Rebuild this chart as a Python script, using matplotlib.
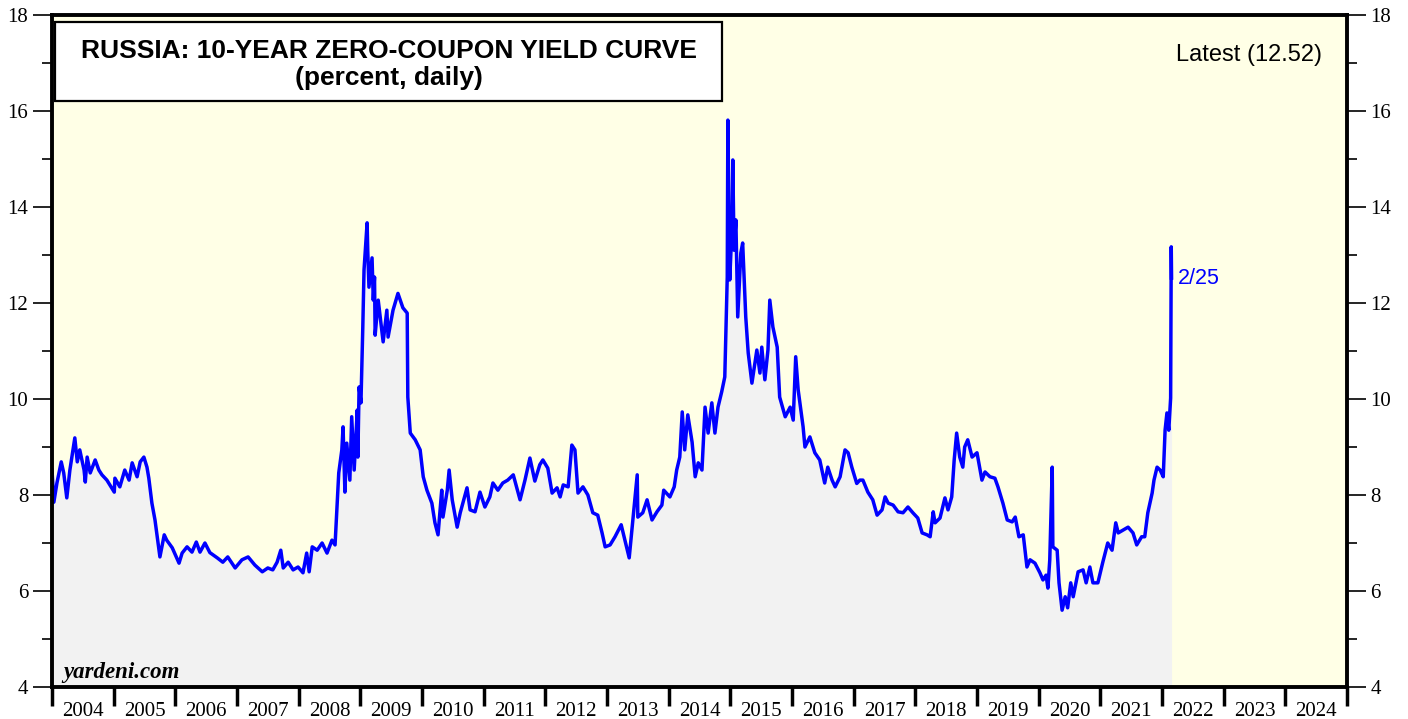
#!/usr/bin/env python3
"""Russia 10-year zero-coupon yield curve, daily, redrawn from a Yardeni chart."""

import matplotlib
matplotlib.use("Agg")
import matplotlib.pyplot as plt
from matplotlib.patches import Rectangle
from matplotlib.ticker import FixedLocator, MultipleLocator, NullFormatter

# decimal year and yield (percent)
years = [
    2004.00, 2004.03, 2004.08, 2004.15, 2004.19, 2004.24, 2004.29, 2004.37, 2004.41, 2004.45,
    2004.52, 2004.54, 2004.57, 2004.62, 2004.70, 2004.76, 2004.81, 2004.89, 2005.01, 2005.02,
    2005.10, 2005.18, 2005.25, 2005.30, 2005.38, 2005.43, 2005.49, 2005.54, 2005.57, 2005.62,
    2005.67, 2005.72, 2005.75, 2005.82, 2005.86, 2005.95, 2006.06, 2006.11, 2006.19, 2006.27,
    2006.34, 2006.40, 2006.48, 2006.56, 2006.68, 2006.77, 2006.85, 2006.97, 2007.08, 2007.18,
    2007.29, 2007.41, 2007.50, 2007.58, 2007.65, 2007.71, 2007.75, 2007.83, 2007.91, 2007.99,
    2008.07, 2008.13, 2008.17, 2008.22, 2008.30, 2008.38, 2008.46, 2008.54, 2008.59, 2008.62,
    2008.65, 2008.70, 2008.72, 2008.75, 2008.78, 2008.83, 2008.86, 2008.90, 2008.95, 2008.96,
    2008.98, 2009.01, 2009.04, 2009.06, 2009.11, 2009.12, 2009.14, 2009.19, 2009.21, 2009.23,
    2009.24, 2009.29, 2009.37, 2009.43, 2009.45, 2009.53, 2009.61, 2009.69, 2009.76, 2009.77,
    2009.81, 2009.89, 2009.97, 2010.02, 2010.08, 2010.16, 2010.21, 2010.26, 2010.32, 2010.34,
    2010.41, 2010.44, 2010.49, 2010.57, 2010.62, 2010.73, 2010.78, 2010.86, 2010.94, 2011.02,
    2011.10, 2011.15, 2011.23, 2011.31, 2011.39, 2011.48, 2011.59, 2011.67, 2011.75, 2011.83,
    2011.91, 2011.96, 2012.04, 2012.11, 2012.19, 2012.24, 2012.29, 2012.37, 2012.43, 2012.48,
    2012.53, 2012.61, 2012.69, 2012.77, 2012.85, 2012.92, 2012.97, 2013.05, 2013.13, 2013.23,
    2013.29, 2013.36, 2013.42, 2013.49, 2013.50, 2013.58, 2013.65, 2013.73, 2013.81, 2013.89,
    2013.92, 2014.02, 2014.09, 2014.13, 2014.18, 2014.22, 2014.26, 2014.31, 2014.38, 2014.43,
    2014.48, 2014.54, 2014.59, 2014.64, 2014.70, 2014.75, 2014.80, 2014.86, 2014.91, 2014.95,
    2014.96, 2014.99, 2015.03, 2015.04, 2015.06, 2015.09, 2015.12, 2015.17, 2015.20, 2015.25,
    2015.29, 2015.35, 2015.43, 2015.48, 2015.51, 2015.56, 2015.61, 2015.64, 2015.69, 2015.76,
    2015.80, 2015.89, 2015.97, 2016.02, 2016.06, 2016.10, 2016.18, 2016.21, 2016.29, 2016.37,
    2016.45, 2016.53, 2016.58, 2016.65, 2016.70, 2016.78, 2016.86, 2016.91, 2016.97, 2017.05,
    2017.10, 2017.15, 2017.23, 2017.31, 2017.38, 2017.46, 2017.51, 2017.56, 2017.64, 2017.72,
    2017.80, 2017.88, 2017.96, 2018.04, 2018.11, 2018.19, 2018.24, 2018.29, 2018.32, 2018.40,
    2018.48, 2018.53, 2018.59, 2018.63, 2018.67, 2018.72, 2018.77, 2018.80, 2018.85, 2018.92,
    2019.00, 2019.08, 2019.13, 2019.21, 2019.29, 2019.34, 2019.42, 2019.49, 2019.57, 2019.62,
    2019.68, 2019.75, 2019.81, 2019.86, 2019.94, 2020.02, 2020.07, 2020.12, 2020.15, 2020.18,
    2020.22, 2020.23, 2020.30, 2020.33, 2020.38, 2020.43, 2020.47, 2020.52, 2020.56, 2020.64,
    2020.72, 2020.77, 2020.83, 2020.88, 2020.96, 2021.04, 2021.12, 2021.19, 2021.25, 2021.29,
    2021.37, 2021.45, 2021.53, 2021.59, 2021.67, 2021.72, 2021.77, 2021.84, 2021.87, 2021.92,
    2021.97, 2022.02, 2022.05, 2022.08, 2022.11, 2022.14, 2022.150, 2022.155,
]
yields = [
    8.52, 7.85, 8.25, 8.69, 8.46, 7.94, 8.52, 9.19, 8.69, 8.94,
    8.52, 8.27, 8.79, 8.46, 8.73, 8.52, 8.42, 8.31, 8.06, 8.35,
    8.17, 8.52, 8.31, 8.67, 8.38, 8.69, 8.79, 8.58, 8.35, 7.83,
    7.48, 7.00, 6.71, 7.17, 7.06, 6.90, 6.58, 6.79, 6.92, 6.81,
    7.02, 6.81, 7.00, 6.80, 6.69, 6.60, 6.71, 6.48, 6.65, 6.71,
    6.54, 6.40, 6.48, 6.44, 6.60, 6.85, 6.48, 6.60, 6.44, 6.50,
    6.38, 6.79, 6.40, 6.92, 6.85, 7.00, 6.79, 7.06, 6.96, 7.69,
    8.46, 8.94, 9.42, 8.06, 9.08, 8.31, 9.63, 8.52, 9.77, 8.79,
    10.25, 9.92, 11.50, 12.69, 13.67, 13.10, 12.33, 12.94, 12.06, 12.54,
    11.33, 12.06, 11.19, 11.85, 11.29, 11.85, 12.20, 11.90, 11.79, 10.04,
    9.29, 9.15, 8.94, 8.38, 8.10, 7.83, 7.42, 7.17, 8.10, 7.54,
    8.10, 8.52, 7.90, 7.33, 7.63, 8.15, 7.69, 7.65, 8.06, 7.75,
    7.96, 8.25, 8.10, 8.25, 8.31, 8.42, 7.90, 8.31, 8.77, 8.29,
    8.63, 8.73, 8.56, 8.04, 8.15, 7.96, 8.21, 8.17, 9.04, 8.94,
    8.04, 8.17, 8.00, 7.63, 7.58, 7.21, 6.92, 6.96, 7.13, 7.38,
    7.06, 6.69, 7.48, 8.42, 7.54, 7.63, 7.90, 7.48, 7.65, 7.79,
    8.10, 7.96, 8.17, 8.52, 8.79, 9.73, 8.94, 9.67, 9.10, 8.38,
    8.67, 8.52, 9.83, 9.29, 9.92, 9.29, 9.83, 10.15, 10.46, 12.54,
    15.81, 12.48, 13.67, 14.98, 13.10, 13.73, 11.71, 13.04, 13.25, 11.71,
    10.96, 10.33, 11.02, 10.54, 11.08, 10.40, 11.02, 12.06, 11.50, 11.08,
    10.04, 9.63, 9.83, 9.56, 10.88, 10.19, 9.42, 9.00, 9.21, 8.88,
    8.73, 8.25, 8.58, 8.31, 8.17, 8.38, 8.94, 8.88, 8.58, 8.24,
    8.31, 8.31, 8.06, 7.90, 7.58, 7.69, 7.96, 7.83, 7.79, 7.65,
    7.63, 7.75, 7.63, 7.52, 7.21, 7.17, 7.13, 7.65, 7.42, 7.52,
    7.94, 7.69, 7.96, 8.73, 9.29, 8.79, 8.58, 9.00, 9.15, 8.79,
    8.88, 8.31, 8.48, 8.38, 8.35, 8.17, 7.83, 7.48, 7.44, 7.54,
    7.13, 7.17, 6.50, 6.65, 6.58, 6.38, 6.23, 6.33, 6.06, 6.65,
    8.58, 6.92, 6.85, 6.17, 5.60, 5.88, 5.65, 6.17, 5.88, 6.40,
    6.44, 6.17, 6.50, 6.17, 6.17, 6.60, 7.00, 6.85, 7.42, 7.21,
    7.27, 7.33, 7.21, 6.96, 7.13, 7.13, 7.63, 8.04, 8.31, 8.58,
    8.52, 8.38, 9.35, 9.71, 9.35, 10.02, 13.17, 12.52,
]

year_labels = list(range(2004, 2025))
latest_label = "Latest (12.52)"
last_date_label = "2/25"

SERIF = ["Liberation Serif", "DejaVu Serif"]
SANS = ["Liberation Sans", "DejaVu Sans"]
BG = "#ffffe6"

fig = plt.figure(figsize=(14.08, 7.19), dpi=100)
ax = fig.add_axes([52 / 1408, 32 / 719, 1295 / 1408, 672 / 719])
ax.set_facecolor(BG)

ax.fill_between(years, 4, yields, color="#f2f2f2", lw=0, zorder=1)
ax.plot(years, yields, color="#0000ff", lw=2.5, zorder=3, solid_joinstyle="round")

ax.set_xlim(2004, 2025)
ax.set_ylim(4, 18)

# years: boundary ticks, labels centred between them
ax.xaxis.set_major_locator(FixedLocator(list(range(2004, 2026))))
ax.xaxis.set_major_formatter(NullFormatter())
ax.xaxis.set_minor_locator(FixedLocator([y + 0.5 for y in year_labels]))
ax.set_xticklabels([str(y) for y in year_labels], minor=True)
ax.tick_params(axis="x", which="major", direction="out", length=14, width=2.5, color="black")
ax.tick_params(axis="x", which="minor", length=0, pad=11, labelsize=15)

ax.yaxis.set_major_locator(MultipleLocator(2))
ax.yaxis.set_minor_locator(MultipleLocator(1))
ax.tick_params(axis="y", which="major", direction="out", length=14, width=1.2,
               labelsize=15, left=True, right=True, labelleft=True, labelright=True, pad=3)
ax.tick_params(axis="y", which="minor", direction="out", length=7, width=1.2, left=True, right=True)

for lab in ax.get_xticklabels(minor=True) + ax.get_yticklabels():
    lab.set_family(SERIF)

for side in ["left", "right", "top", "bottom"]:
    ax.spines[side].set_linewidth(2.8)
    ax.spines[side].set_color("black")
    ax.spines[side].set_zorder(5)

# title box
ax.add_patch(Rectangle((0.0023, 0.872), 0.515, 0.117, transform=ax.transAxes,
                       facecolor="white", edgecolor="black", lw=1.6, zorder=6))
ax.text(0.2603, 0.946, "RUSSIA: 10-YEAR ZERO-COUPON YIELD CURVE", transform=ax.transAxes,
        ha="center", va="center", fontsize=19, fontweight="bold", family=SANS, zorder=7)
ax.text(0.2603, 0.906, "(percent, daily)", transform=ax.transAxes,
        ha="center", va="center", fontsize=19, fontweight="bold", family=SANS, zorder=7)

ax.text(0.981, 0.940, latest_label, transform=ax.transAxes, ha="right", va="center",
        fontsize=17, family=SANS, zorder=7)
ax.text(years[-1] + 0.1, 12.52, last_date_label, ha="left", va="center",
        fontsize=15.5, family=SANS, color="#0000ff", zorder=7)
ax.text(0.009, 0.022, "yardeni.com", transform=ax.transAxes, ha="left", va="center",
        fontsize=16.5, fontweight="bold", fontstyle="italic", family=SERIF, zorder=7)

fig.savefig("out.png", dpi=100, facecolor="white")
